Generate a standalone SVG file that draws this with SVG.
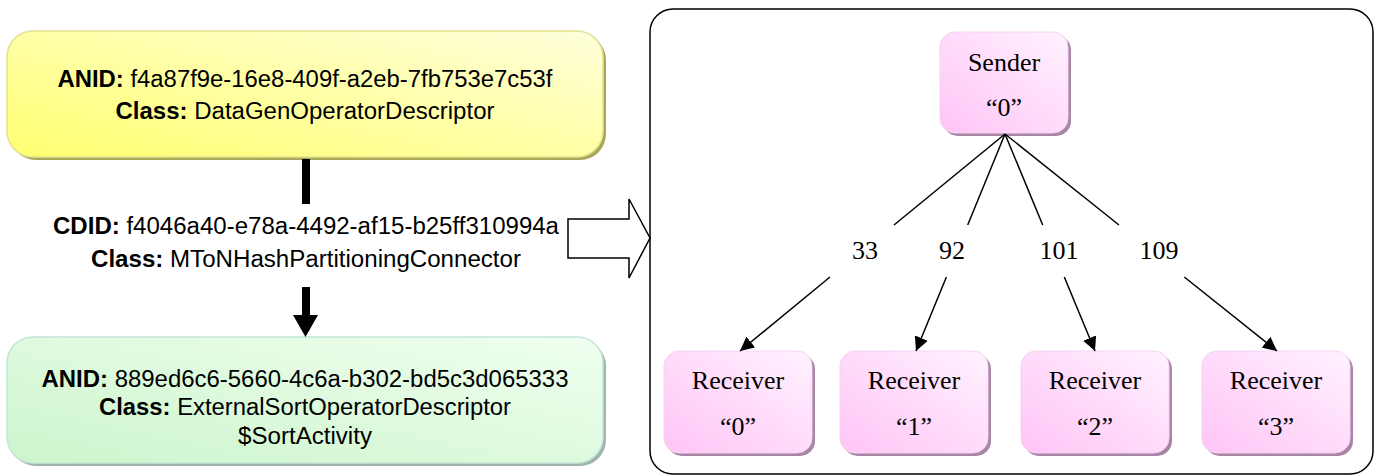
<svg xmlns="http://www.w3.org/2000/svg" width="1380" height="476" viewBox="0 0 1380 476">
<style>
.sans{font-family:"Liberation Sans",Arial,sans-serif;font-size:23px;fill:#000;text-anchor:middle}
.b{font-weight:bold}
.serif{font-family:"Liberation Serif","Times New Roman",serif;font-size:26px;fill:#000;text-anchor:middle}
.bar{fill:#000}
.edge{stroke:#000;stroke-width:1.5;fill:none}
</style>
<defs>
<linearGradient id="gy" x1="0" y1="1" x2="1" y2="0">
<stop offset="0" stop-color="#ffff70"/><stop offset="1" stop-color="#ffffdc"/>
</linearGradient>
<linearGradient id="gg" x1="0" y1="1" x2="1" y2="0">
<stop offset="0" stop-color="#ccf5cc"/><stop offset="1" stop-color="#f0fff0"/>
</linearGradient>
<linearGradient id="gp" x1="0" y1="1" x2="1" y2="0">
<stop offset="0" stop-color="#ffc4f6"/><stop offset="1" stop-color="#fff2ff"/>
</linearGradient>
<marker id="ah" markerWidth="14" markerHeight="14" viewBox="0 0 14 14" refX="14" refY="7" orient="auto" markerUnits="userSpaceOnUse">
<path d="M0,0 L14,7 L0,14 Z" fill="#000"/>
</marker>
</defs>

<g id="anid-datagen">
<rect x="10" y="34" width="596" height="126" rx="26" fill="#a8a858"/>
<rect x="7" y="31" width="596" height="126" rx="26" fill="url(#gy)" stroke="#e2e290" stroke-width="1.5"/>
<text class="sans" x="305" y="87" textLength="495" lengthAdjust="spacingAndGlyphs"><tspan class="b">ANID:</tspan> f4a87f9e-16e8-409f-a2eb-7fb753e7c53f</text>
<text class="sans" x="305" y="119" textLength="379" lengthAdjust="spacingAndGlyphs"><tspan class="b">Class:</tspan> DataGenOperatorDescriptor</text>
</g>

<g id="anid-sort">
<rect x="10" y="340" width="596" height="126" rx="26" fill="#9fb4ac"/>
<rect x="7" y="337" width="596" height="126" rx="26" fill="url(#gg)" stroke="#c4e6d8" stroke-width="1.5"/>
<text class="sans" x="305" y="387" textLength="527" lengthAdjust="spacingAndGlyphs"><tspan class="b">ANID:</tspan> 889ed6c6-5660-4c6a-b302-bd5c3d065333</text>
<text class="sans" x="305" y="415" textLength="412" lengthAdjust="spacingAndGlyphs"><tspan class="b">Class:</tspan> ExternalSortOperatorDescriptor</text>
<text class="sans" x="305" y="444" textLength="134" lengthAdjust="spacingAndGlyphs">$SortActivity</text>
</g>

<g id="connector-desc">
<text class="sans" x="306" y="234" textLength="506" lengthAdjust="spacingAndGlyphs"><tspan class="b">CDID:</tspan> f4046a40-e78a-4492-af15-b25ff310994a</text>
<text class="sans" x="306" y="267" textLength="430" lengthAdjust="spacingAndGlyphs"><tspan class="b">Class:</tspan> MToNHashPartitioningConnector</text>
</g>

<g id="panel">
<rect x="650" y="9" width="723" height="465" rx="23" fill="#fff" stroke="#000" stroke-width="1.5"/>
</g>

<g id="sender">
<rect x="943" y="35" width="128" height="101" rx="15" fill="#a884a6"/>
<rect x="940" y="32" width="128" height="101" rx="15" fill="url(#gp)" stroke="#f4d4f0" stroke-width="1"/>
<text class="serif" x="1004" y="71">Sender</text>
<text class="serif" x="1004" y="116">“0”</text>
</g>

<g id="receiver0">
<rect x="667" y="354" width="148" height="102" rx="15" fill="#a884a6"/>
<rect x="664" y="351" width="148" height="102" rx="15" fill="url(#gp)" stroke="#f4d4f0" stroke-width="1"/>
<text class="serif" x="738" y="389">Receiver</text>
<text class="serif" x="738" y="435">“0”</text>
</g>
<g id="receiver1">
<rect x="843" y="354" width="148" height="102" rx="15" fill="#a884a6"/>
<rect x="840" y="351" width="148" height="102" rx="15" fill="url(#gp)" stroke="#f4d4f0" stroke-width="1"/>
<text class="serif" x="914" y="389">Receiver</text>
<text class="serif" x="914" y="435">“1”</text>
</g>
<g id="receiver2">
<rect x="1024" y="354" width="148" height="102" rx="15" fill="#a884a6"/>
<rect x="1021" y="351" width="148" height="102" rx="15" fill="url(#gp)" stroke="#f4d4f0" stroke-width="1"/>
<text class="serif" x="1095" y="389">Receiver</text>
<text class="serif" x="1095" y="435">“2”</text>
</g>
<g id="receiver3">
<rect x="1205" y="354" width="148" height="102" rx="15" fill="#a884a6"/>
<rect x="1202" y="351" width="148" height="102" rx="15" fill="url(#gp)" stroke="#f4d4f0" stroke-width="1"/>
<text class="serif" x="1276" y="389">Receiver</text>
<text class="serif" x="1276" y="435">“3”</text>
</g>

<g id="connectors">
<rect class="bar" x="302" y="159" width="8" height="45"/>
<rect class="bar" x="302" y="287" width="8" height="29"/>
<path class="bar" d="M293,315 L318,315 L305.5,337 Z"/>
<path d="M568,219 L629,219 L629,199 L650,238 L629,278 L629,258 L568,258 Z" fill="#fff" stroke="#000" stroke-width="1.5" stroke-linejoin="miter"/>
<line class="edge" x1="1005" y1="134" x2="894" y2="225"/>
<line class="edge" x1="830" y1="277" x2="740" y2="351" marker-end="url(#ah)"/>
<line class="edge" x1="1005" y1="134" x2="967.7" y2="225"/>
<line class="edge" x1="946.4" y1="277" x2="916" y2="351" marker-end="url(#ah)"/>
<line class="edge" x1="1005" y1="134" x2="1042.7" y2="225"/>
<line class="edge" x1="1064.3" y1="277" x2="1095" y2="351" marker-end="url(#ah)"/>
<line class="edge" x1="1005" y1="134" x2="1119" y2="225"/>
<line class="edge" x1="1184.3" y1="277" x2="1277" y2="351" marker-end="url(#ah)"/>
<text class="serif" x="865" y="259">33</text>
<text class="serif" x="952" y="259">92</text>
<text class="serif" x="1059" y="259">101</text>
<text class="serif" x="1159" y="259">109</text>
</g>
</svg>
